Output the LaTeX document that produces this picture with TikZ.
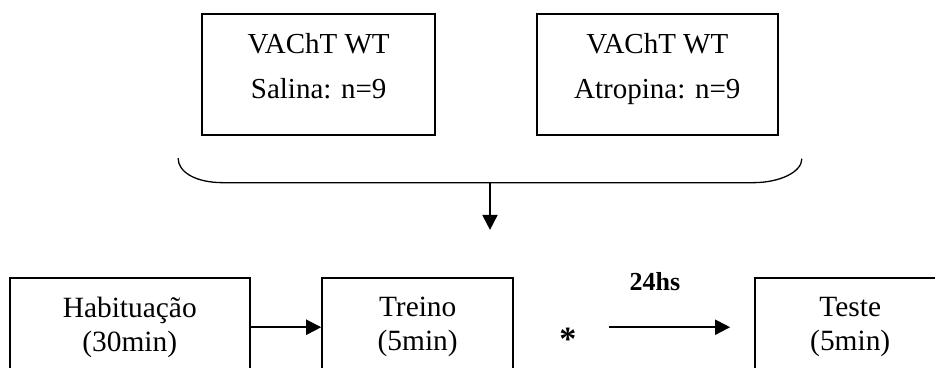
\documentclass[tikz,border=0pt]{standalone}
\usepackage{fontspec}
\setmainfont{Liberation Serif}
\usetikzlibrary{arrows.meta}

\tikzset{
	groupbox/.style = {draw, line width = 1pt, align = center, font = \fontsize{14.5}{22.5}\selectfont, text depth = 9pt},
	stagebox/.style = {draw, line width = 1pt, align = center, minimum height = 49pt, font = \fontsize{14.7}{17}\selectfont},
	arrowline/.style = {line width = 1pt, -{Triangle[length = 7.5pt, width = 7.5pt]}}
}

\begin{document}
\begin{tikzpicture}
	\clip (0, 0) rectangle (16.43, -6.45);
	% groups
	\node[groupbox, minimum width = 116.5pt, minimum height = 60.5pt] (salina) at (5.60, -1.31) {VAChT WT\\Salina: n=9};
	\node[groupbox, minimum width = 120.5pt, minimum height = 60.5pt] (atropina) at (11.55, -1.31) {VAChT WT\\Atropina: n=9};
	% brace under both groups
	\draw[line width = 0.65pt] (3.13, -2.78) .. controls (3.13, -3.02) and (3.43, -3.21) .. (3.92, -3.21)
		-- (13.23, -3.21) .. controls (13.71, -3.21) and (14.09, -3.02) .. (14.09, -2.79);
	\coordinate (split) at (8.61, -3.21);
	\coordinate (down) at (8.61, -4.04);
	\draw[arrowline] (split) -- (down);
	% protocol
	\node[stagebox, minimum width = 120pt] (habituacao) at (2.28, -5.75) {Habituação\\(30min)};
	\node[stagebox, minimum width = 95.5pt] (treino) at (7.34, -5.75) {Treino\\(5min)};
	\node[stagebox, minimum width = 95pt] (teste) at (14.94, -5.75) {Teste\\(5min)};
	\draw[arrowline] (habituacao) -- (treino);
	\node[font = \bfseries\fontsize{17}{20}\selectfont] (pausa) at (9.98, -5.96) {*};
	\node[font = \bfseries\fontsize{13}{16}\selectfont] (intervalo) at (11.51, -4.94) {24hs};
	\coordinate (saida) at (10.70, -5.75);
	\coordinate (chegada) at (12.83, -5.75);
	\draw[arrowline] (saida) -- (chegada);
\end{tikzpicture}
\end{document}
